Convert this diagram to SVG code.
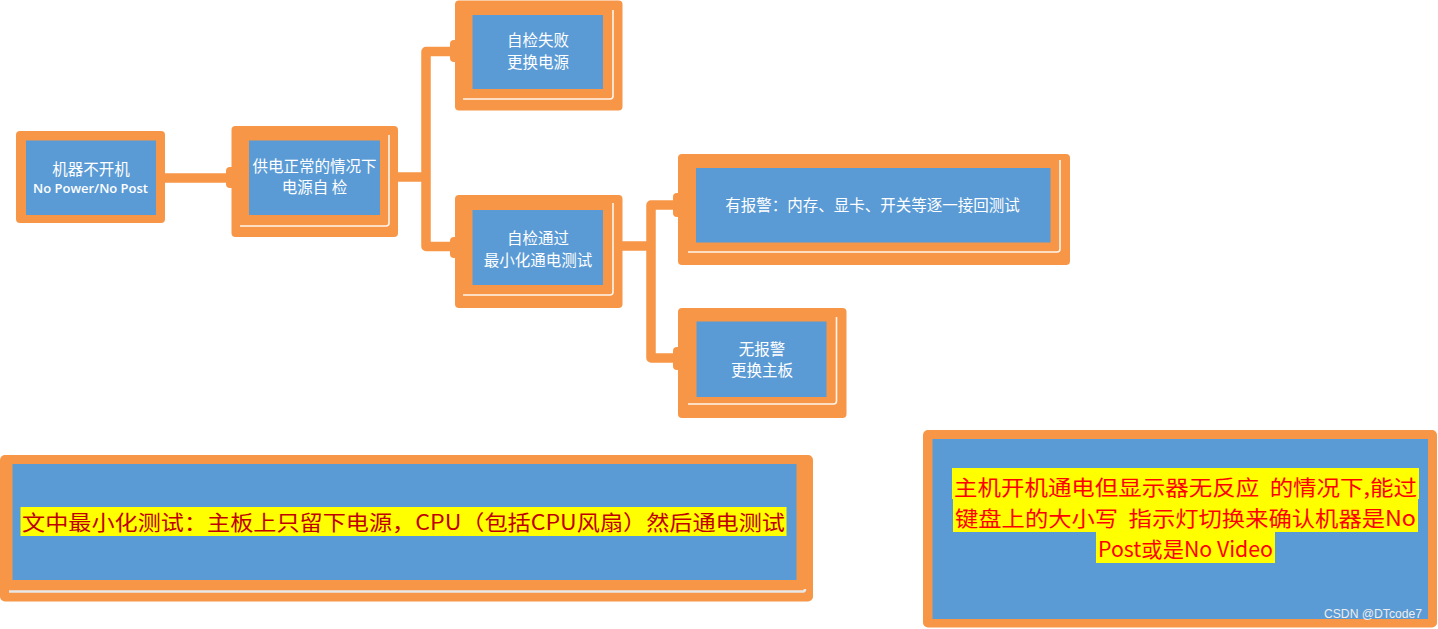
<svg xmlns="http://www.w3.org/2000/svg" width="1438" height="629" viewBox="0 0 1438 629">
<defs>
<style>
.frame{fill:#F79646}
.inner{fill:#5B9BD5}
.gap{fill:none;stroke:#FFFFFF;stroke-width:1.6;stroke-linejoin:round;opacity:0.9}
.conn{fill:none;stroke:#F79646;stroke-width:9.5;stroke-linejoin:round;stroke-linecap:butt}
.knob{fill:#F79646}
.lbl{font-family:"Noto Sans CJK SC","Noto Sans",sans-serif;font-size:15.5px;fill:#FFFFFF;text-anchor:middle}
.lat{font-family:"Open Sans","Noto Sans",sans-serif;font-weight:600;font-size:13px;fill:#FFFFFF}
.hl{fill:#FFFF00}
.note1{font-family:"Noto Sans CJK SC","Noto Sans",sans-serif;font-size:21px;fill:#C00000;white-space:pre}
.note2{font-family:"Noto Sans CJK SC","Noto Sans",sans-serif;font-size:21px;fill:#FF0000;white-space:pre}
.wm{font-family:"Liberation Sans",Arial,sans-serif;font-size:12px;fill:#EDEDED}
</style>
</defs>
<rect width="1438" height="629" fill="#FFFFFF"/>

<g id="connectors">
<path class="conn" d="M165,178 H232"/>
<path class="conn" d="M398,177 H426"/>
<path class="conn" d="M455,51.5 H426 V246.5 H455"/>
<path class="conn" d="M622,246 H651"/>
<path class="conn" d="M678,205 H651 V358 H678"/>
<rect class="knob" x="226" y="167" width="10" height="21" rx="4"/>
<rect class="knob" x="450" y="40" width="10" height="22" rx="4"/>
<rect class="knob" x="450" y="237" width="10" height="21" rx="4"/>
<rect class="knob" x="673" y="193" width="10" height="24" rx="4"/>
<rect class="knob" x="673" y="347" width="10" height="23" rx="4"/>
</g>

<g id="node-no-power">
<rect class="frame" x="16" y="131" width="149" height="92" rx="4"/>
<rect class="inner" x="26" y="140.5" width="130" height="74.5"/>
<text class="lbl" x="91" y="175">机器不开机</text>
<text class="lat" x="33" y="193" textLength="115" lengthAdjust="spacingAndGlyphs">No Power/No Post</text>
</g>

<g id="node-self-check">
<rect class="frame" x="231.5" y="126" width="166.5" height="111" rx="4"/>
<path class="gap" d="M389,135 V223 Q389,226 386,226 H240"/>
<rect class="inner" x="249" y="140.5" width="131" height="74.5"/>
<text class="lbl" x="314.5" y="172">供电正常的情况下</text>
<text class="lbl" x="314.5" y="193">电源自 检</text>
</g>

<g id="node-fail">
<rect class="frame" x="455" y="0.5" width="167.5" height="110" rx="4"/>
<path class="gap" d="M613,10 V96 Q613,99 610,99 H463"/>
<rect class="inner" x="472.5" y="15" width="130.5" height="74"/>
<text class="lbl" x="538" y="46">自检失败</text>
<text class="lbl" x="538" y="67.5">更换电源</text>
</g>

<g id="node-pass">
<rect class="frame" x="455" y="195" width="167.5" height="113" rx="4"/>
<path class="gap" d="M613,203 V292 Q613,295 610,295 H463"/>
<rect class="inner" x="472.5" y="210" width="130.5" height="75"/>
<text class="lbl" x="538" y="244">自检通过</text>
<text class="lbl" x="538" y="265.5">最小化通电测试</text>
</g>

<g id="node-alarm">
<rect class="frame" x="678" y="154" width="392" height="111" rx="4"/>
<path class="gap" d="M1060,160 V249 Q1060,252 1057,252 H688"/>
<rect class="inner" x="696" y="168" width="354.5" height="74.5"/>
<text class="lbl" x="872.5" y="211">有报警：内存、显卡、开关等逐一接回测试</text>
</g>

<g id="node-no-alarm">
<rect class="frame" x="678" y="308" width="168.5" height="110" rx="4"/>
<path class="gap" d="M836.5,317 V401 Q836.5,404 833.5,404 H688"/>
<rect class="inner" x="696.5" y="321.5" width="130" height="75.5"/>
<text class="lbl" x="762" y="355">无报警</text>
<text class="lbl" x="762" y="376">更换主板</text>
</g>

<g id="note-minimal-test">
<rect class="frame" x="0" y="455" width="813" height="146.5" rx="5"/>
<rect class="inner" x="12.5" y="464" width="784" height="116"/>
<path class="gap" d="M9,591.5 H803 Q805,591.5 805,589" style="stroke:#E8E8E8;stroke-width:2.5;opacity:1"/>
<rect class="hl" x="20.5" y="507" width="766" height="29"/>
<text class="note1" x="22" y="530" textLength="763" lengthAdjust="spacingAndGlyphs">文中最小化测试：主板上只留下电源，CPU（包括CPU风扇）然后通电测试</text>
</g>

<g id="note-no-video">
<rect class="frame" x="923" y="430" width="514" height="197.5" rx="5"/>
<rect class="inner" x="932.5" y="439" width="495.5" height="180"/>
<rect class="hl" x="952" y="468" width="467" height="31"/>
<rect class="hl" x="953" y="499" width="465" height="33"/>
<rect class="hl" x="1096" y="532" width="179" height="31"/>
<text class="note2" x="954" y="495" textLength="463" lengthAdjust="spacingAndGlyphs">主机开机通电但显示器无反应  的情况下,能过</text>
<text class="note2" x="955" y="526" textLength="461" lengthAdjust="spacingAndGlyphs">键盘上的大小写  指示灯切换来确认机器是No</text>
<text class="note2" x="1098" y="557" textLength="175" lengthAdjust="spacingAndGlyphs">Post或是No Video</text>
<text class="wm" x="1324" y="618" textLength="98" lengthAdjust="spacingAndGlyphs">CSDN @DTcode7</text>
</g>
</svg>
